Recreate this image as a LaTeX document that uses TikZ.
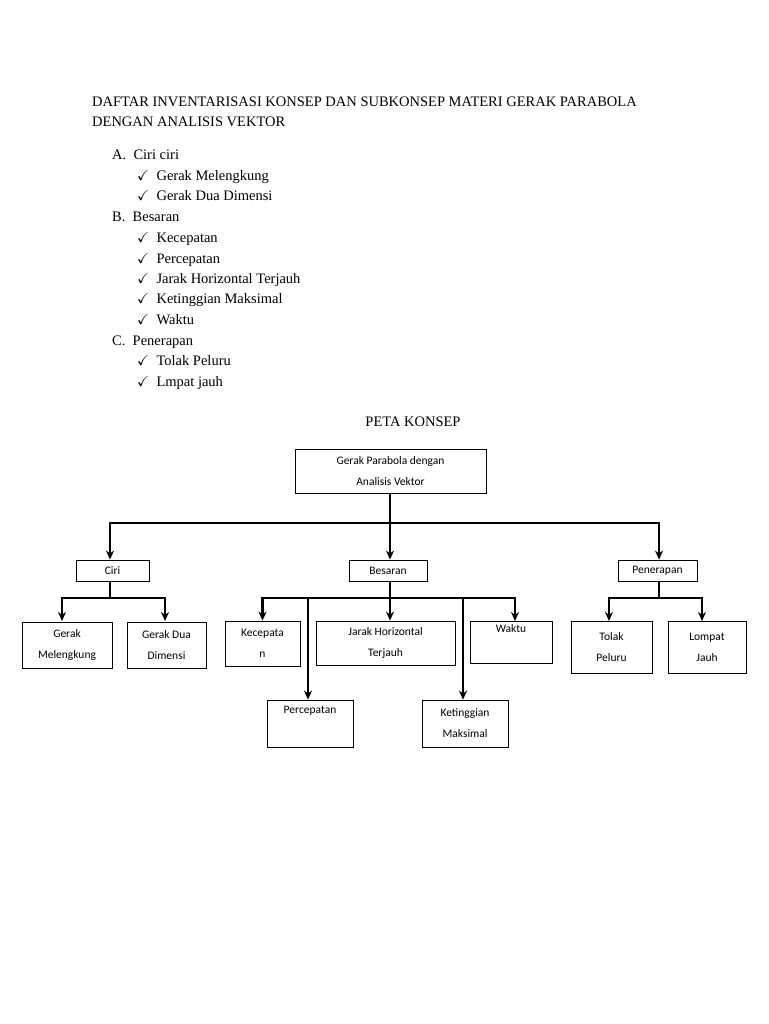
\documentclass[tikz,border=0pt]{standalone}
\usepackage{amssymb}
\usepackage{fontspec}
\setmainfont{Liberation Serif}
\newfontfamily\boxfont{Carlito}
\usetikzlibrary{arrows.meta}

\tikzset{
	box/.style={draw=black,line width=0.8pt,inner sep=0pt,align=center,font=\boxfont\fontsize{11.5}{21}\selectfont},
	link/.style={line width=2.6pt},
	down/.style={link,-{Stealth[length=9pt,width=8pt]}},
	txt/.style={anchor=base west,inner sep=0pt,font=\fontsize{14.5}{17}\selectfont}
}

\begin{document}
\begin{tikzpicture}[x=1pt,y=-1pt]
	\useasboundingbox (0,0) rectangle (768,1024);

	% daftar
	\node[txt] (t1) at (92,107)  {DAFTAR INVENTARISASI KONSEP DAN SUBKONSEP MATERI GERAK PARABOLA};
	\node[txt] (t2) at (92,127)  {DENGAN ANALISIS VEKTOR};
	\node[txt] (la) at (112,160) {A.\ \ Ciri ciri};
	\node[txt] (l1) at (137,181) {\checkmark\ \ Gerak Melengkung};
	\node[txt] (l2) at (137,201) {\checkmark\ \ Gerak Dua Dimensi};
	\node[txt] (lb) at (112,222) {B.\ \ Besaran};
	\node[txt] (l3) at (137,243) {\checkmark\ \ Kecepatan};
	\node[txt] (l4) at (137,263) {\checkmark\ \ Percepatan};
	\node[txt] (l5) at (137,283) {\checkmark\ \ Jarak Horizontal Terjauh};
	\node[txt] (l6) at (137,303) {\checkmark\ \ Ketinggian Maksimal};
	\node[txt] (l7) at (137,324) {\checkmark\ \ Waktu};
	\node[txt] (lc) at (112,345) {C.\ \ Penerapan};
	\node[txt] (l8) at (137,365) {\checkmark\ \ Tolak Peluru};
	\node[txt] (l9) at (137,386) {\checkmark\ \ Lmpat jauh};
	\node[txt,anchor=base] (peta) at (413,426) {PETA KONSEP};

	% peta konsep
	\node[box,minimum width=191pt,minimum height=44pt] (gpav) at (390.5,471) {Gerak Parabola dengan\\Analisis Vektor};
	\node[box,minimum width=73pt,minimum height=21pt] (ciri) at (112.5,570.5) {Ciri};
	\node[box,minimum width=78pt,minimum height=21pt] (bes) at (388,570.5) {Besaran};
	\node[box,minimum width=79pt,minimum height=21pt] (pen) at (657.5,570.5) {Penerapan};
	\node[box,minimum width=90pt,minimum height=46pt] (gml) at (67,645) {Gerak\\Melengkung};
	\node[box,minimum width=79pt,minimum height=46pt] (gdd) at (166.5,645) {Gerak Dua\\Dimensi};
	\node[box,minimum width=75pt,minimum height=45pt] (kec) at (262.5,643.5) {Kecepata\\n};
	\node[box,minimum width=139pt,minimum height=44pt] (jar) at (385.5,643) {Jarak Horizontal\\Terjauh};
	\node[box,minimum width=82pt,minimum height=42pt] (wak) at (511,642) {Waktu\\\strut};
	\node[box,minimum width=86pt,minimum height=47pt] (per) at (310,723.5) {Percepatan\\\strut};
	\node[box,minimum width=86pt,minimum height=47pt] (ket) at (465,723.5) {Ketinggian\\Maksimal};
	\node[box,minimum width=81pt,minimum height=52pt] (tol) at (611.5,647) {Tolak\\Peluru};
	\node[box,minimum width=78pt,minimum height=52pt] (lom) at (707,647) {Lompat\\Jauh};

	\coordinate (j0) at (390,523);
	\coordinate (j1) at (110,598);
	\coordinate (j2) at (390,598);
	\coordinate (j3) at (659,598);

	\draw[link] (gpav.south -| j0) -- (j0);
	\draw[down] (j0) -| (ciri.north -| j1);
	\draw[down] (j0) -- (bes.north -| j0);
	\draw[down] (j0) -| (pen.north -| j3);

	\draw[link] (ciri.south -| j1) -- (j1);
	\draw[down] (j1) -| (62,621);
	\draw[down] (j1) -| (165,621);

	\draw[link] (bes.south -| j2) -- (j2);
	\draw[down] (j2) -| (kec.north);
	\draw[down] (j2) -- (jar.north -| j2);
	\draw[down] (j2) -| (515,621);
	\draw[down] (308,598) -- (per.north -| 308,0);
	\draw[down] (463,598) -- (ket.north -| 463,0);

	\draw[link] (pen.south -| j3) -- (j3);
	\draw[down] (j3) -| (609,621);
	\draw[down] (j3) -| (702,621);
\end{tikzpicture}
\end{document}
